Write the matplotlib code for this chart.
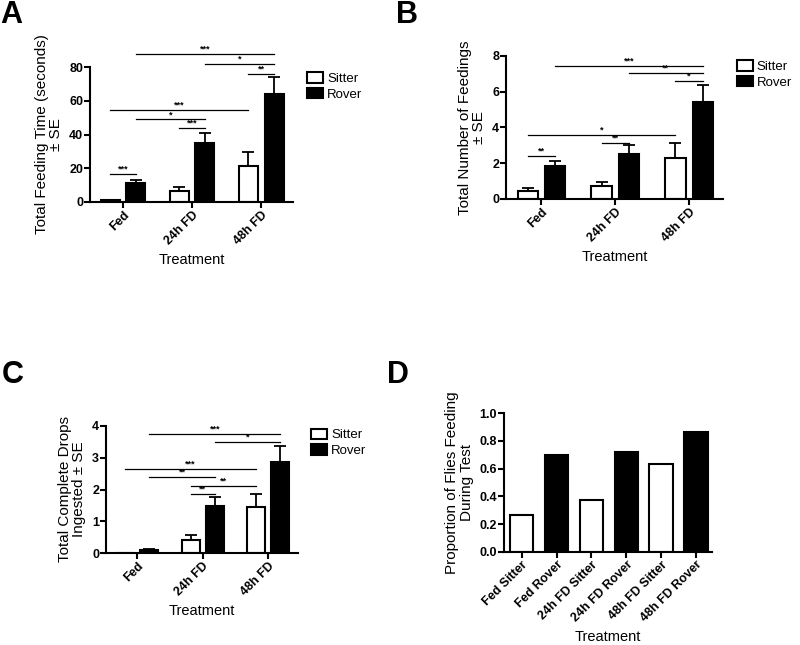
import numpy as np
import matplotlib
matplotlib.use("Agg")
import matplotlib.pyplot as plt
from matplotlib.patches import Patch

plt.rcParams['font.family'] = ['Liberation Sans', 'DejaVu Sans']

groups = ['Fed', '24h FD', '48h FD']
series = ['Sitter', 'Rover']

# A: total feeding time (s)
a_sitter = [1.0, 6.5, 21.5]
a_sitter_se = [0.4, 2.2, 8.3]
a_rover = [11.2, 35.0, 63.8]
a_rover_se = [2.0, 6.0, 10.2]
# (group, series) -> (group, series), height, stars
a_sig = [((0, 1), (2, 1), 88.0, '***'), ((1, 1), (2, 1), 82.0, '*'),
         ((2, 0), (2, 1), 75.7, '**'), ((0, 0), (2, 0), 54.4, '***'),
         ((0, 1), (1, 1), 48.9, '*'), ((1, 0), (1, 1), 44.0, '***'),
         ((0, 0), (0, 1), 16.4, '***')]

# B: number of feedings
b_sitter = [0.45, 0.72, 2.3]
b_sitter_se = [0.18, 0.22, 0.82]
b_rover = [1.82, 2.5, 5.44]
b_rover_se = [0.33, 0.5, 0.92]
b_sig = [((0, 1), (2, 1), 7.44, '***'), ((1, 1), (2, 1), 7.07, '**'),
         ((2, 0), (2, 1), 6.6, '*'), ((0, 0), (2, 0), 3.57, '*'),
         ((1, 0), (1, 1), 3.16, '**'), ((0, 0), (0, 1), 2.41, '**')]

# C: complete drops ingested
c_sitter = [0.0, 0.42, 1.45]
c_sitter_se = [0.0, 0.14, 0.4]
c_rover = [0.09, 1.49, 2.88]
c_rover_se = [0.05, 0.28, 0.48]
c_sig = [((0, 1), (2, 1), 3.75, '***'), ((1, 1), (2, 1), 3.49, '*'),
         ((0, 0), (2, 0), 2.64, '***'), ((0, 1), (1, 1), 2.39, '**'),
         ((1, 0), (2, 0), 2.12, '**'), ((1, 0), (1, 1), 1.85, '**')]

# D: proportion feeding
d_labels = ['Fed Sitter', 'Fed Rover', '24h FD Sitter', '24h FD Rover',
            '48h FD Sitter', '48h FD Rover']
d_values = [0.264, 0.70, 0.375, 0.72, 0.63, 0.865]

W, H = 800, 645
fig = plt.figure(figsize=(8, 6.45), dpi=100)


def px_axes(left, top, right, bottom):
    return fig.add_axes([left / W, 1 - bottom / H, (right - left) / W, (bottom - top) / H])


def style(ax, ylabel):
    for s in ['top', 'right']:
        ax.spines[s].set_visible(False)
    for s in ['left', 'bottom']:
        ax.spines[s].set_linewidth(1.5)
    ax.tick_params(width=1.5, length=4, labelsize=9, pad=1)
    for lab in ax.get_yticklabels():
        lab.set_fontweight('bold')
    ax.set_ylabel(ylabel, fontsize=11, linespacing=1.05, labelpad=4)
    ax.set_xlabel('Treatment', fontsize=10.5, labelpad=4)


off = 0.185
bw = 0.275


def grouped(ax, sitter, sitter_se, rover, rover_se, sig, ymax, yticks, ylabel, leg_xy):
    x = np.arange(len(groups))
    for vals, se, dx, col in [(sitter, sitter_se, -off, 'white'), (rover, rover_se, off, 'black')]:
        ax.errorbar(x + dx, vals, yerr=[np.zeros(len(se)), se], fmt='none', ecolor='black',
                    elinewidth=1.3, capsize=4, capthick=1.3, zorder=1)
        ax.bar(x + dx, vals, bw, color=col, edgecolor='black', linewidth=1.5, zorder=2)
    for (g1, s1), (g2, s2), h, stars in sig:
        x1 = g1 + (off if s1 else -off)
        x2 = g2 + (off if s2 else -off)
        ax.plot([x1, x2], [h, h], color='black', lw=0.9, clip_on=False)
        ax.text((x1 + x2) / 2, h + ymax * 0.003, stars, ha='center', va='bottom',
                fontsize=6.5, fontweight='bold', clip_on=False)
    ax.set_xlim(-0.48, 2.46)
    ax.set_ylim(0, ymax)
    ax.set_yticks(yticks)
    ax.set_xticks(x)
    ax.set_xticklabels(groups, rotation=45, ha='right', rotation_mode='anchor',
                       fontweight='bold')
    style(ax, ylabel)
    handles = [Patch(facecolor='white', edgecolor='black', linewidth=1.5),
               Patch(facecolor='black', edgecolor='black', linewidth=1.5)]
    ax.legend(handles, series, loc='upper left', bbox_to_anchor=leg_xy, frameon=False,
              fontsize=9.5, handlelength=1.2, handleheight=0.85, handletextpad=0.3,
              labelspacing=0.2, borderaxespad=0, borderpad=0)


axA = px_axes(90, 67, 293, 202)
grouped(axA, a_sitter, a_sitter_se, a_rover, a_rover_se, a_sig, 80, [0, 20, 40, 60, 80],
        'Total Feeding Time (seconds)\n\u00b1 SE', (1.07, 0.96))

axB = px_axes(506, 56, 723, 199)
grouped(axB, b_sitter, b_sitter_se, b_rover, b_rover_se, b_sig, 8, [0, 2, 4, 6, 8],
        'Total Number of Feedings\n\u00b1 SE', (1.065, 0.97))

axC = px_axes(106, 426, 298, 553)
grouped(axC, c_sitter, c_sitter_se, c_rover, c_rover_se, c_sig, 4, [0, 1, 2, 3, 4],
        'Total Complete Drops\nIngested \u00b1 SE', (1.07, 0.98))

axD = px_axes(504, 413, 712, 552)
xd = np.arange(len(d_labels))
axD.bar(xd, d_values, 0.67, color=['white', 'black'] * 3, edgecolor='black', linewidth=1.5)
axD.set_xlim(-0.51, 5.46)
axD.set_ylim(0, 1.0)
axD.set_yticks([0.0, 0.2, 0.4, 0.6, 0.8, 1.0])
axD.set_xticks(xd)
axD.set_xticklabels(d_labels, rotation=45, ha='right', rotation_mode='anchor',
                    fontweight='bold')
style(axD, 'Proportion of Flies Feeding\nDuring Test')

for letter, xp, yp in [('A', 0, 23), ('B', 396, 23), ('C', 2, 383), ('D', 387, 383)]:
    fig.text(xp / W, 1 - yp / H, letter, fontsize=22, fontweight='bold', ha='left', va='baseline')

fig.savefig('out.png', dpi=100)
